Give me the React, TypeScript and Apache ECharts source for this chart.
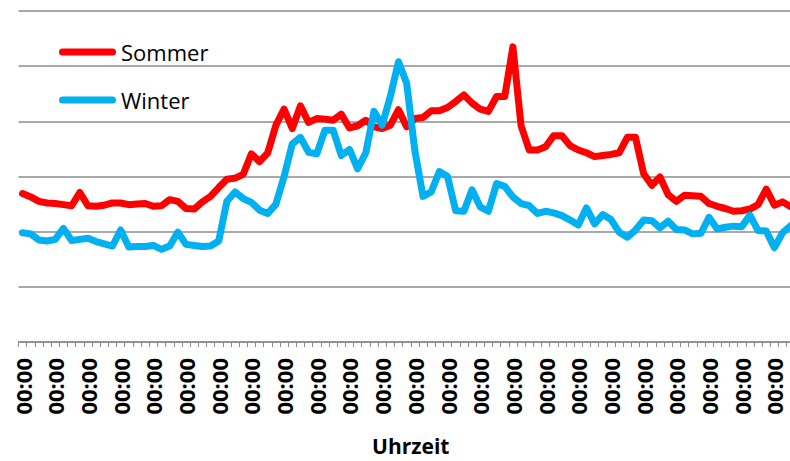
import React, { useEffect, useRef } from "react";
import * as echarts from "echarts";

// 96 quarter-hour categories; every label in the source reads "00:00"
const timeLabels: string[] = Array(96).fill("00:00");

const sommer: number[] = [
  26.9, 26.3, 25.5, 25.2, 25.1, 24.9, 24.7, 27.1, 24.7, 24.6,
  24.8, 25.2, 25.2, 24.9, 25.0, 25.1, 24.6, 24.7, 25.8, 25.5,
  24.2, 24.1, 25.4, 26.4, 28.0, 29.5, 29.7, 30.4, 34.1, 32.7,
  34.3, 39.3, 42.2, 38.7, 42.8, 39.8, 40.5, 40.4, 40.2, 41.3,
  38.8, 39.2, 40.2, 39.0, 38.7, 39.3, 42.1, 39.0, 40.5, 40.7,
  41.9, 41.9, 42.5, 43.6, 44.8, 43.3, 42.2, 41.8, 44.5, 44.5,
  53.5, 39.2, 34.8, 34.8, 35.4, 37.4, 37.4, 35.6, 34.8, 34.3,
  33.6, 33.8, 34.0, 34.3, 37.1, 37.1, 30.5, 28.4, 29.9, 26.7,
  25.5, 26.6, 26.5, 26.4, 25.1, 24.6, 24.2, 23.7, 23.8, 24.1,
  24.9, 27.7, 24.8, 25.4, 24.5, 23.9,
];

const winter: number[] = [
  19.8, 19.6, 18.5, 18.3, 18.6, 20.6, 18.4, 18.6, 18.8, 18.2,
  17.8, 17.4, 20.3, 17.2, 17.3, 17.3, 17.5, 16.8, 17.4, 19.9,
  17.7, 17.5, 17.3, 17.4, 18.3, 25.5, 27.2, 26.0, 25.3, 23.9,
  23.3, 25.0, 30.0, 35.9, 37.1, 34.4, 34.1, 38.4, 38.4, 33.8,
  34.9, 31.4, 34.3, 41.8, 39.3, 44.5, 50.8, 46.9, 34.7, 26.4,
  27.2, 30.9, 30.0, 23.8, 23.7, 27.6, 24.5, 23.7, 28.7, 28.2,
  26.3, 25.1, 24.7, 23.3, 23.7, 23.4, 22.9, 22.1, 21.2, 24.3,
  21.4, 23.1, 22.2, 19.9, 19.0, 20.3, 22.1, 22.0, 20.7, 21.9,
  20.4, 20.3, 19.6, 19.7, 22.6, 20.5, 20.8, 21.0, 20.9, 23.0,
  20.2, 20.1, 17.1, 19.8, 21.1, 21.9,
];

const seriesNames = ["Sommer", "Winter"];
const axisTitle = "Uhrzeit";

const RED = "#FF0000";
const BLUE = "#00B0F0";
const GRID_GRAY = "#8C8C8C";
const FONT = "'Open Sans', 'Noto Sans', sans-serif";

const legendIcon =
  "path://M3.5,0 L53.5,0 A3.5,3.5 0 0 1 53.5,7 L3.5,7 A3.5,3.5 0 0 1 3.5,0 Z";

export default function App() {
  const ref = useRef<HTMLDivElement>(null);

  useEffect(() => {
    if (!ref.current) return;
    const chart = echarts.init(ref.current, null, { renderer: "svg" });
    chart.setOption({
      animation: false,
      backgroundColor: "#FFFFFF",
      grid: { left: 18.5, right: 0, top: 11, bottom: 116, containLabel: false },
      legend: {
        data: seriesNames.map((n) => ({ name: n, icon: legendIcon })),
        orient: "vertical",
        left: 59,
        top: 41,
        padding: 0,
        itemWidth: 57,
        itemHeight: 7,
        itemGap: 26,
        textStyle: { fontSize: 22, fontFamily: FONT, color: "#000000" },
      },
      xAxis: {
        type: "category",
        data: timeLabels,
        boundaryGap: true,
        name: axisTitle,
        nameLocation: "middle",
        nameGap: 93,
        nameTextStyle: {
          fontSize: 21,
          fontWeight: "bold",
          fontFamily: FONT,
          color: "#000000",
        },
        axisLine: { show: true, lineStyle: { color: GRID_GRAY, width: 1.5 } },
        axisTick: {
          show: true,
          interval: 0,
          inside: false,
          length: 5,
          lineStyle: { color: GRID_GRAY, width: 1 },
        },
        axisLabel: {
          interval: 3,
          rotate: 90,
          margin: 16,
          fontSize: 22,
          fontWeight: "bold",
          fontFamily: FONT,
          color: "#000000",
        },
        splitLine: { show: false },
      },
      yAxis: {
        type: "value",
        min: 0,
        max: 60,
        interval: 10,
        axisLabel: { show: false },
        axisLine: { show: false },
        axisTick: { show: false },
        splitLine: { show: true, lineStyle: { color: GRID_GRAY, width: 1.5 } },
      },
      series: [
        {
          name: seriesNames[0],
          type: "line",
          data: sommer,
          symbol: "none",
          color: RED,
          lineStyle: { color: RED, width: 7, join: "round", cap: "round" },
          itemStyle: { color: RED },
        },
        {
          name: seriesNames[1],
          type: "line",
          data: winter,
          symbol: "none",
          color: BLUE,
          lineStyle: { color: BLUE, width: 7, join: "round", cap: "round" },
          itemStyle: { color: BLUE },
        },
      ],
    });
    return () => chart.dispose();
  }, []);

  return (
    <div
      style={{
        position: "absolute",
        left: 0,
        top: 0,
        width: 790,
        height: 461,
        overflow: "hidden",
        background: "#FFFFFF",
      }}
    >
      <div ref={ref} style={{ width: 803, height: 461 }} />
    </div>
  );
}
